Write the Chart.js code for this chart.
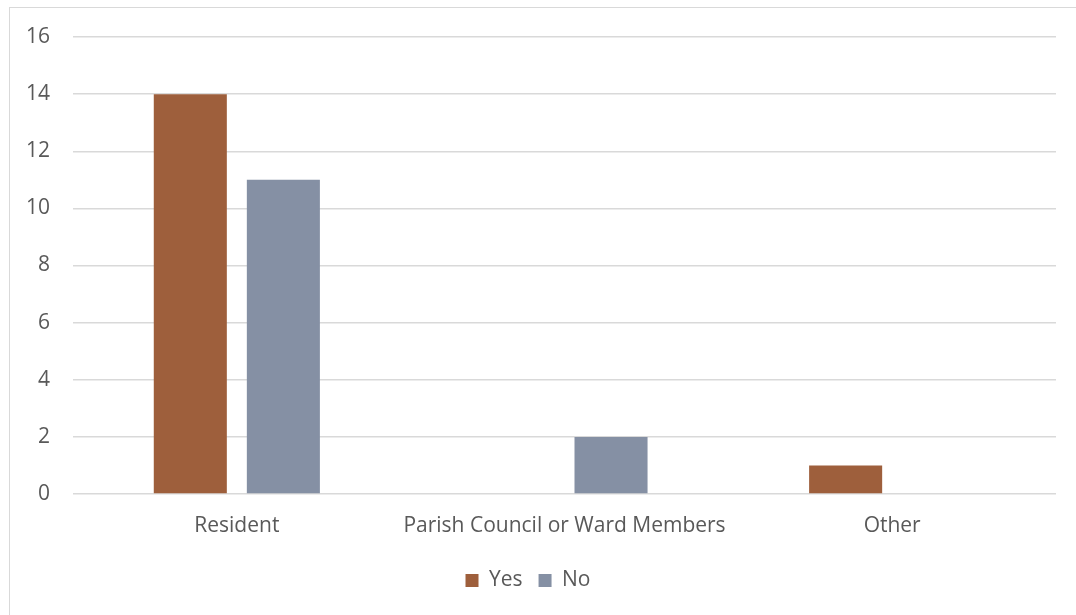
<!DOCTYPE html>
<html>
<head>
<meta charset="utf-8">
<script src="https://cdn.jsdelivr.net/npm/chart.js@4.4.1/dist/chart.umd.min.js"></script>
<style>
body{margin:0;background:#fff;}
#frame{position:absolute;left:9px;top:7px;width:1100px;height:640px;border-left:1px solid #D9D9D9;border-top:1px solid #D9D9D9;}
#wrap{position:absolute;left:0;top:0;width:1076px;height:615px;}
</style>
</head>
<body>
<div id="frame"></div>
<div id="wrap"><canvas id="respChart"></canvas></div>
<script>

// DATA

const categories=["Resident","Parish Council or Ward Members","Other"];

const yesValues=[14,0,1];

const noValues=[11,2,0];

const yTicks=[0,2,4,6,8,10,12,14,16];

const textColor="#595959";
const gridColor="#D9D9D9";
const fontFamily="'Open Sans', 'Liberation Sans', sans-serif";

const respChart=document.getElementById("respChart");

if(respChart){

new Chart(respChart,{

type:"bar",

data:{

labels:categories,

datasets:[{

label:"Yes",

data:yesValues,

backgroundColor:"#9E5F3C",

categoryPercentage:0.568,

barPercentage:0.785

},{

label:"No",

data:noValues,

backgroundColor:"#8590A4",

categoryPercentage:0.568,

barPercentage:0.785

}]

},

options:{

responsive:true,

maintainAspectRatio:false,

animation:false,

layout:{
padding:{left:0,right:20,top:37,bottom:14}
},

scales:{

x:{
grid:{display:false,drawTicks:false},
border:{display:false},
ticks:{color:textColor,font:{family:fontFamily,size:21},padding:19,maxRotation:0,minRotation:0,autoSkip:false},
afterFit:function(s){s.height=60;}
},

y:{
min:0,
max:16,
afterBuildTicks:function(s){s.ticks=yTicks.map(v=>({value:v}));},
grid:{color:gridColor,lineWidth:1.5,drawTicks:false},
border:{display:false},
ticks:{color:textColor,font:{family:fontFamily,size:21},padding:23},
afterFit:function(s){s.width=73;}
}

},

plugins:{

legend:{
position:"bottom",
labels:{
color:textColor,
font:{family:fontFamily,size:21},
boxWidth:13,
boxHeight:13,
padding:16
}
},

tooltip:{enabled:false}

}

}

});

}
</script>
</body>
</html>
